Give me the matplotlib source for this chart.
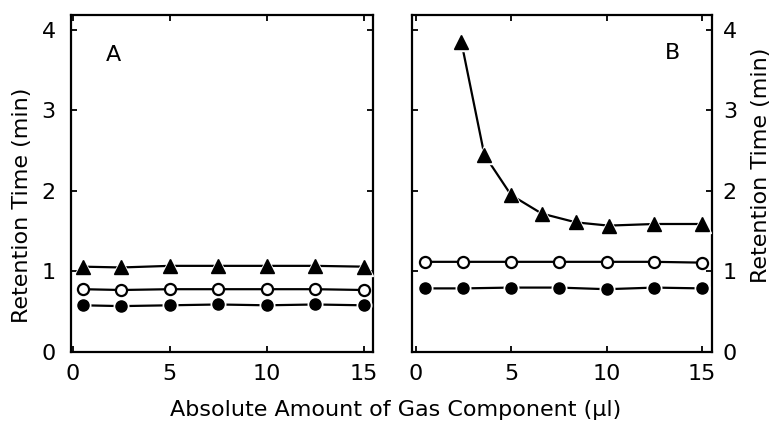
import matplotlib
matplotlib.use("Agg")
import matplotlib.pyplot as plt

# ---- data ----
xa = [0.5, 2.5, 5.0, 7.5, 10.0, 12.5, 15.0]
a_triangle = [1.06, 1.05, 1.07, 1.07, 1.07, 1.07, 1.06]
a_open = [0.78, 0.77, 0.78, 0.78, 0.78, 0.78, 0.77]
a_filled = [0.58, 0.57, 0.58, 0.59, 0.58, 0.59, 0.58]

xb_tri = [2.4, 3.6, 5.0, 6.6, 8.4, 10.1, 12.5, 15.0]
b_triangle = [3.85, 2.45, 1.95, 1.72, 1.61, 1.57, 1.59, 1.59]
xb = [0.5, 2.5, 5.0, 7.5, 10.0, 12.5, 15.0]
b_open = [1.12, 1.12, 1.12, 1.12, 1.12, 1.12, 1.11]
b_filled = [0.79, 0.79, 0.80, 0.80, 0.78, 0.80, 0.79]

xticks = [0, 5, 10, 15]
yticks = [0, 1, 2, 3, 4]
panel_labels = ["A", "B"]
ylabel = "Retention Time (min)"
xlabel = "Absolute Amount of Gas Component (\u00b5l)"

plt.rcParams['font.family'] = ['DejaVu Sans']
FS = 16

fig = plt.figure(figsize=(7.72, 4.25), dpi=100)
axA = fig.add_axes([0.092, 0.1718, 0.3916, 0.7936])
axB = fig.add_axes([0.5333, 0.1718, 0.3886, 0.7936])


def series(ax, x, y, kind):
    ax.plot(x, y, '-', color='black', lw=1.6, zorder=2)
    if kind == 'tri':
        ax.plot(x, y, '^', ms=13, mfc='white', mec='white', ls='none', zorder=3)
        ax.plot(x, y, '^', ms=10, mfc='black', mec='black', ls='none', zorder=4)
    elif kind == 'open':
        ax.plot(x, y, 'o', ms=8, mfc='white', mec='black', mew=1.6, ls='none', zorder=4)
    else:
        ax.plot(x, y, 'o', ms=10.5, mfc='white', mec='white', ls='none', zorder=3)
        ax.plot(x, y, 'o', ms=8, mfc='black', mec='black', ls='none', zorder=4)


series(axA, xa, a_triangle, 'tri')
series(axA, xa, a_open, 'open')
series(axA, xa, a_filled, 'filled')

series(axB, xb_tri, b_triangle, 'tri')
series(axB, xb, b_open, 'open')
series(axB, xb, b_filled, 'filled')

axA.set_xlim(-0.1, 15.5)
axB.set_xlim(-0.2, 15.5)
for ax in (axA, axB):
    ax.set_ylim(0, 4.19)
    ax.set_xticks(xticks)
    ax.set_yticks(yticks)
    for s in ax.spines.values():
        s.set_linewidth(1.6)
    ax.tick_params(direction='in', length=4, width=1.3, top=True, right=True,
                   left=True, bottom=True, labelsize=FS)
    ax.tick_params(axis='x', pad=9)

axA.tick_params(axis='y', pad=11, labelleft=True, labelright=False)
axB.tick_params(axis='y', pad=8, labelleft=False, labelright=True)

axA.set_ylabel(ylabel, fontsize=FS, labelpad=7, y=0.436)
axB.yaxis.set_label_position('right')
axB.set_ylabel(ylabel, fontsize=FS, rotation=90, labelpad=10, y=0.554)

axA.text(0.14, 0.88, panel_labels[0], transform=axA.transAxes, fontsize=FS,
         ha='center', va='center')
axB.text(0.87, 0.885, panel_labels[1], transform=axB.transAxes, fontsize=FS,
         ha='center', va='center')

fig.text(0.512, 0.035, xlabel, fontsize=FS, ha='center', va='center')

fig.savefig("out.png", dpi=100)
